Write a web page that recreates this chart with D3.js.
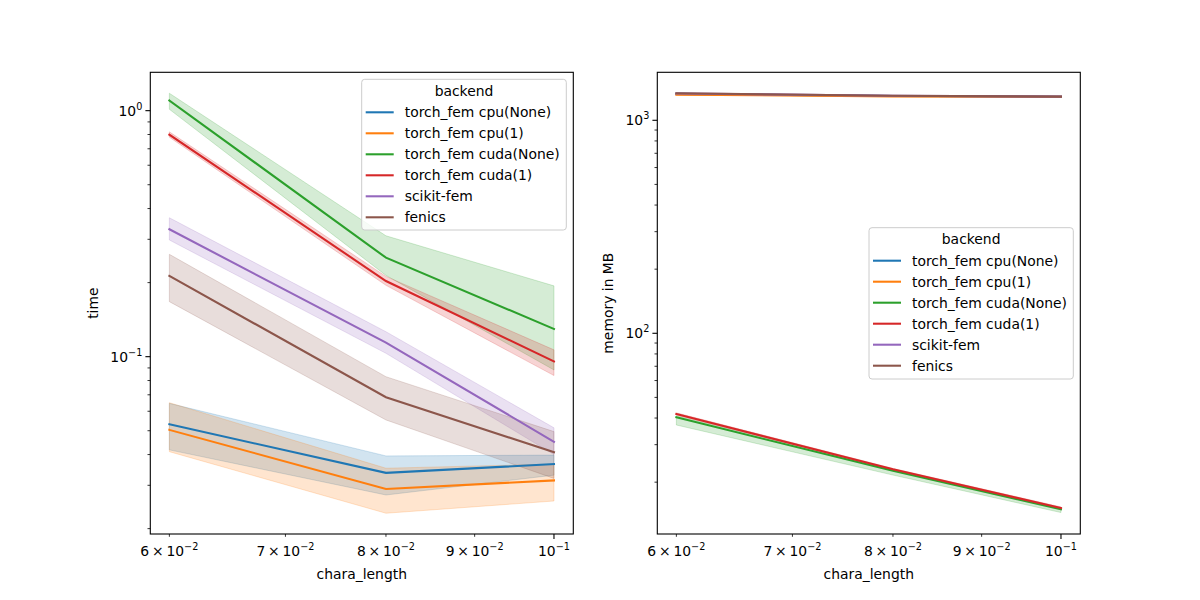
<!DOCTYPE html>
<html><head><meta charset="utf-8">
<script src="https://cdn.jsdelivr.net/npm/d3@7"></script>
<style>body{margin:0;background:#fff}svg{font-family:"DejaVu Sans",sans-serif}</style>
</head><body><svg id="c" width="1200" height="600"></svg>
<script>
const xs = [0.06, 0.08, 0.1];
const backends = ["torch_fem cpu(None)","torch_fem cpu(1)","torch_fem cuda(None)","torch_fem cuda(1)","scikit-fem","fenics"];
const colors = ["#1f77b4","#ff7f0e","#2ca02c","#d62728","#9467bd","#8c564b"];

// time (left panel)
const timeMean = [[0.0531,0.0337,0.0366],[0.0504,0.029,0.0314],[1.10,0.2526,0.1296],[0.799,0.203,0.0957],[0.3296,0.114,0.0451],[0.213,0.0684,0.0409]];
const timeLow  = [[0.0418,0.0274,0.033],[0.0411,0.0231,0.0259],[1.013,0.214,0.0883],[0.78,0.195,0.0838],[0.298,0.1032,0.040],[0.1674,0.0553,0.032]];
const timeHigh = [[0.0646,0.0395,0.0398],[0.065,0.0352,0.0366],[1.177,0.31,0.194],[0.82,0.212,0.1066],[0.367,0.1263,0.0514],[0.2607,0.0829,0.0496]];

// memory (right panel)
const memMean = [[1330,1300,1290],[1320,1295,1288],[40.3,22.6,14.92],[41.8,23.0,15.13],[1335,1305,1292],[1340,1305,1292]];
const memLow  = [[1322,1295,1286],[1312,1290,1284],[37.1,21.6,14.4],[41.3,22.8,15.0],[1328,1300,1288],[1333,1300,1288]];
const memHigh = [[1338,1305,1294],[1328,1300,1292],[41.0,23.0,15.1],[42.3,23.2,15.3],[1342,1310,1296],[1347,1310,1296]];

const xTickVals = [0.06,0.07,0.08,0.09,0.1];
const xTickLabels = [["6\u2009\u00d7\u200910","\u22122"],["7\u2009\u00d7\u200910","\u22122"],["8\u2009\u00d7\u200910","\u22122"],["9\u2009\u00d7\u200910","\u22122"],["10","\u22121"]];

const svg = d3.select("#c");
const T = 72.3, B = 534;

function panel(L, R, yDomain, mean, low, high, ylabel, ylabOff, majors, legendPos) {
  const g = svg.append("g");
  const x = d3.scaleLog().domain([0.0585, 0.1026]).range([L, R]);
  const y = d3.scaleLog().domain(yDomain).range([B, T]);
  const clipId = "clip" + Math.round(L);
  svg.append("defs").append("clipPath").attr("id", clipId)
    .append("rect").attr("x", L).attr("y", T).attr("width", R - L).attr("height", B - T);
  const plot = g.append("g").attr("clip-path", `url(#${clipId})`);
  const area = d3.area().x((d,i)=>x(xs[i])).y0(d=>y(d[0])).y1(d=>y(d[1]));
  const line = d3.line().x((d,i)=>x(xs[i])).y(d=>y(d));
  backends.forEach((b,k)=>{
    const pts = xs.map((_,i)=>[low[k][i], high[k][i]]);
    plot.append("path").attr("d", area(pts)).attr("fill", colors[k]).attr("fill-opacity",0.2)
      .attr("stroke", colors[k]).attr("stroke-opacity",0.2).attr("stroke-width",1);
  });
  backends.forEach((b,k)=>{
    plot.append("path").attr("d", line(mean[k])).attr("fill","none").attr("stroke", colors[k])
      .attr("stroke-width",2.08).attr("stroke-linecap","square");
  });
  g.append("rect").attr("x",L).attr("y",T).attr("width",R-L).attr("height",B-T)
    .attr("fill","none").attr("stroke","#000").attr("stroke-width",1.1);
  xTickVals.forEach((v,i)=>{
    const px = x(v);
    const major = (v === 0.1);
    g.append("line").attr("x1",px).attr("x2",px).attr("y1",B).attr("y2",B+(major?4.9:2.8)).attr("stroke","#000").attr("stroke-width",major?1.1:0.8);
    const t = g.append("text").attr("x",px).attr("y",B+22).attr("text-anchor","middle").attr("font-size",13.9).attr("fill","#000");
    t.append("tspan").text(xTickLabels[i][0]);
    t.append("tspan").attr("dy",-6).attr("font-size",9.7).text(xTickLabels[i][1]);
  });
  g.append("text").attr("x",(L+R)/2).attr("y",579).attr("text-anchor","middle").attr("font-size",13.9).text("chara_length");
  const lo = Math.floor(Math.log10(yDomain[0])), hi = Math.ceil(Math.log10(yDomain[1]));
  for (let e = lo; e <= hi; e++) {
    for (let m = 1; m <= 9; m++) {
      const v = m * Math.pow(10, e);
      if (v < yDomain[0] || v > yDomain[1]) continue;
      const py = y(v);
      g.append("line").attr("x1",L).attr("x2",L-(m===1?4.9:2.8)).attr("y1",py).attr("y2",py).attr("stroke","#000").attr("stroke-width",m===1?1.1:0.8);
    }
  }
  majors.forEach(([v,base,exp])=>{
    const t = g.append("text").attr("x",L-8).attr("y",y(v)+5).attr("text-anchor","end").attr("font-size",13.9);
    t.append("tspan").text(base);
    t.append("tspan").attr("dy",-6).attr("font-size",9.7).text(exp);
  });
  g.append("text").attr("transform",`translate(${L-ylabOff},${(T+B)/2}) rotate(-90)`).attr("text-anchor","middle").attr("font-size",13.9).text(ylabel);
  const [lx, ly, lw, lh] = legendPos;
  const lg = g.append("g");
  lg.append("rect").attr("x",lx).attr("y",ly).attr("width",lw).attr("height",lh).attr("rx",3)
    .attr("fill","#fff").attr("fill-opacity",0.8).attr("stroke","#cccccc").attr("stroke-width",1);
  lg.append("text").attr("x",lx+lw/2).attr("y",ly+16.5).attr("text-anchor","middle").attr("font-size",13.9).text("backend");
  backends.forEach((b,k)=>{
    const yy = ly + 33 + k*21;
    lg.append("line").attr("x1",lx+4).attr("x2",lx+32).attr("y1",yy).attr("y2",yy).attr("stroke",colors[k]).attr("stroke-width",2.08);
    lg.append("text").attr("x",lx+43).attr("y",yy+5).attr("font-size",13.9).text(b);
  });
}

panel(150.3, 573.3, [0.01902, 1.432], timeMean, timeLow, timeHigh, "time", 52,
  [[1,"10","0"],[0.1,"10","\u22121"]], [361.7, 79.3, 204.6, 150.7]);
panel(657.3, 1080.3, [11.42, 1680], memMean, memLow, memHigh, "memory in MB", 44,
  [[1000,"10","3"],[100,"10","2"]], [869, 227.7, 204.3, 151.3]);
</script></body></html>
